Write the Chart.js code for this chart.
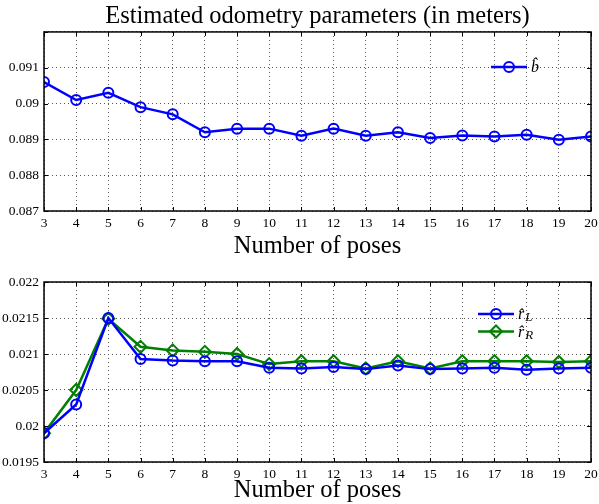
<!DOCTYPE html>
<html>
<head>
<meta charset="utf-8">
<script src="https://cdn.jsdelivr.net/npm/chart.js@4.4.1/dist/chart.umd.min.js"></script>
<style>
  html, body { margin: 0; padding: 0; background: #fff; }
  #wrap { position: relative; width: 599px; height: 504px; }
  .box { position: absolute; left: 0; width: 599px; }
</style>
</head>
<body>
<div id="wrap">
  <div class="box" style="top:0;height:260px"><canvas id="odoTop"></canvas></div>
  <div class="box" style="top:260px;height:244px"><canvas id="odoBottom"></canvas></div>
</div>
<script>
// number of poses used for each estimate
const POSES = [3, 4, 5, 6, 7, 8, 9, 10, 11, 12, 13, 14, 15, 16, 17, 18, 19, 20];
// estimated wheel base b (m)
const B_HAT = [0.0906, 0.0901, 0.0903, 0.0899, 0.0897, 0.0892, 0.0893, 0.0893, 0.0891,
  0.0893, 0.0891, 0.0892, 0.08904, 0.08911, 0.08908, 0.08913, 0.08899, 0.08908];
// estimated wheel radii (m)
const R_L = [0.0199, 0.0203, 0.0215, 0.02093, 0.02091, 0.0209, 0.0209, 0.02081, 0.0208,
  0.02082, 0.02079, 0.02084, 0.02079, 0.0208, 0.02081, 0.02078, 0.0208, 0.02081];
const R_R = [0.0199, 0.0205, 0.02149, 0.0211, 0.02105, 0.02103, 0.0210, 0.02086, 0.0209,
  0.0209, 0.0208, 0.0209, 0.0208, 0.0209, 0.0209, 0.0209, 0.02089, 0.0209];

const SERIF = "'Liberation Serif', 'DejaVu Serif', serif";
const BLUE = '#0000ff', GREEN = '#008000';

const pts = arr => POSES.map((p, i) => ({ x: p, y: arr[i] }));
const fmt = v => String(Number(v.toFixed(5)));

// matlab-like box with inward ticks
const frame = {
  id: 'frame',
  afterDraw(chart) {
    const { ctx, chartArea: a, scales } = chart;
    ctx.save();
    ctx.strokeStyle = '#000';
    ctx.lineWidth = 1.5;
    ctx.strokeRect(a.left, a.top, a.right - a.left, a.bottom - a.top);
    ctx.lineWidth = 1;
    ctx.beginPath();
    scales.x.ticks.forEach(t => {
      const x = Math.round(scales.x.getPixelForValue(t.value)) + 0.5;
      ctx.moveTo(x, a.bottom); ctx.lineTo(x, a.bottom - 4);
      ctx.moveTo(x, a.top); ctx.lineTo(x, a.top + 4);
    });
    scales.y.ticks.forEach(t => {
      const y = Math.round(scales.y.getPixelForValue(t.value)) + 0.5;
      ctx.moveTo(a.left, y); ctx.lineTo(a.left + 4, y);
      ctx.moveTo(a.right, y); ctx.lineTo(a.right - 4, y);
    });
    ctx.stroke();
    ctx.restore();
  }
};

// legend drawn inside the plot area, with subscripts
const innerLegend = {
  id: 'innerLegend',
  afterDraw(chart, args, o) {
    const ctx = chart.ctx;
    ctx.save();
    chart.data.datasets.forEach((ds, i) => {
      const y = o.y + i * o.rowH;
      ctx.strokeStyle = ds.borderColor;
      ctx.lineWidth = ds.borderWidth;
      ctx.beginPath();
      ctx.moveTo(o.x, y); ctx.lineTo(o.x + o.w, y);
      ctx.stroke();
      ctx.lineWidth = ds.pointBorderWidth;
      ctx.fillStyle = 'rgba(0,0,0,0)';
      Chart.helpers.drawPoint(ctx, { pointStyle: ds.pointStyle, radius: ds.pointRadius, rotation: 0,
        borderWidth: ds.pointBorderWidth }, o.x + o.w / 2, y);
      ctx.fillStyle = '#000';
      ctx.textBaseline = 'middle';
      ctx.font = 'italic 16px ' + SERIF;
      ctx.fillText(ds.label, o.x + o.w + 4, y + 1);
      if (ds.sub) {
        const w = ctx.measureText(ds.label).width;
        ctx.font = 'italic 13px ' + SERIF;
        ctx.fillText(ds.sub, o.x + o.w + 5 + w, y + 4);
      }
    });
    ctx.restore();
  }
};

function series(label, sub, data, color, style, r) {
  return {
    label, sub, data,
    borderColor: color, borderWidth: 2.5,
    pointStyle: style, pointRadius: r, pointHoverRadius: r,
    pointBorderColor: color, pointBackgroundColor: 'transparent', pointBorderWidth: 2,
    tension: 0, fill: false
  };
}

function axisOpts(xHeight, yMin, yMax, yStep, hideTop) {
  const grid = { color: '#555', lineWidth: 1, drawTicks: false };
  return {
    x: {
      type: 'linear', min: 3, max: 20,
      grid, border: { display: false, dash: [1, 3] },
      ticks: { stepSize: 1, padding: 4, color: '#000', font: { family: SERIF, size: 13.5 } },
      title: { display: true, text: 'Number of poses', color: '#000', padding: { top: 0, bottom: -1 },
        font: { family: SERIF, size: 24.5 } },
      afterFit: s => { s.height = xHeight; s.paddingLeft = 0; s.paddingRight = 0; }
    },
    y: {
      min: yMin, max: yMax,
      grid, border: { display: false, dash: [1, 3] },
      ticks: { stepSize: yStep, padding: 5, color: '#000', font: { family: SERIF, size: 13.5 },
        callback: v => (hideTop && v >= yMax - yStep / 2) ? '' : fmt(v) },
      afterFit: s => { s.width = 44; s.paddingTop = 0; s.paddingBottom = 0; }
    }
  };
}

new Chart(document.getElementById('odoTop'), {
  type: 'line',
  data: { datasets: [series('b\u0302', '', pts(B_HAT), BLUE, 'circle', 5)] },
  options: {
    responsive: true, maintainAspectRatio: false, animation: false,
    layout: { padding: { left: 0, right: 8, top: 0, bottom: 0 } },
    plugins: {
      legend: { display: false }, tooltip: { enabled: false },
      title: { display: true, fullSize: false, text: 'Estimated odometry parameters (in meters)', color: '#000',
        font: { family: SERIF, size: 24.5, weight: 'normal', lineHeight: 1.1 }, padding: { top: 3, bottom: 2 } },
      innerLegend: { x: 491, y: 67, w: 36, rowH: 17 }
    },
    scales: axisOpts(49, 0.087, 0.092, 0.001, true)
  },
  plugins: [frame, innerLegend]
});

new Chart(document.getElementById('odoBottom'), {
  type: 'line',
  data: { datasets: [
    series('r\u0302', 'L', pts(R_L), BLUE, 'circle', 5),
    series('r\u0302', 'R', pts(R_R), GREEN, 'rectRot', 6)
  ] },
  options: {
    responsive: true, maintainAspectRatio: false, animation: false,
    layout: { padding: { left: 0, right: 8, top: 22, bottom: 0 } },
    plugins: {
      legend: { display: false }, tooltip: { enabled: false },
      innerLegend: { x: 478, y: 54, w: 36, rowH: 17.5 }
    },
    scales: axisOpts(42, 0.0195, 0.022, 0.0005, false)
  },
  plugins: [frame, innerLegend]
});
</script>
</body>
</html>
